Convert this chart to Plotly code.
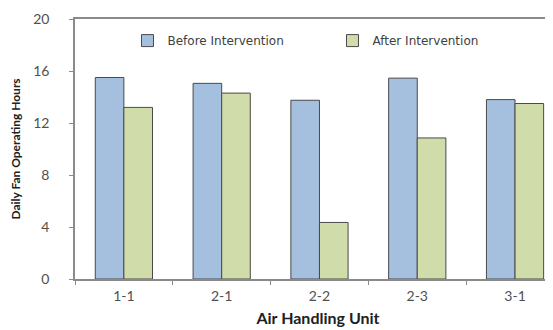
import plotly.graph_objects as go

units = ["1-1", "2-1", "2-2", "2-3", "3-1"]
before = [15.5, 15.05, 13.75, 15.45, 13.8]
after = [13.2, 14.3, 4.35, 10.85, 13.5]
y_ticks = [0, 4, 8, 12, 16, 20]

font_family = "Lato, Open Sans, sans-serif"

fig = go.Figure()
fig.add_trace(go.Bar(x=units, y=before, name="Before Intervention",
                     marker=dict(color="#A5BFDE", line=dict(color="#4a4a4a", width=1))))
fig.add_trace(go.Bar(x=units, y=after, name="After Intervention",
                     marker=dict(color="#D0DCA9", line=dict(color="#4a4a4a", width=1))))

fig.update_layout(
    width=553, height=330,
    margin=dict(l=67, r=0, t=11, b=59, autoexpand=False),
    paper_bgcolor="white", plot_bgcolor="white",
    barmode="group", bargap=0.415, bargroupgap=0,
    font=dict(family=font_family, size=12, color="#404040"),
    showlegend=True,
    legend=dict(orientation="h", x=0.108, y=0.917, xanchor="left", yanchor="middle",
                font=dict(family="DejaVu Sans", size=12, color="#404040"), bgcolor="rgba(0,0,0,0)",
                itemwidth=30, entrywidth=160, entrywidthmode="pixels", tracegroupgap=0),
)
fig.update_xaxes(
    range=[-0.5, 4.47],
    automargin=False,
    showline=True, linecolor="#8a8a8a", linewidth=1.5, mirror=True,
    ticks="outside", tickson="boundaries", ticklen=4, tickcolor="#8a8a8a",
    title=dict(text="<b>Air Handling Unit</b>", font=dict(size=16, color="#202020"), standoff=10),
    tickfont=dict(size=14, color="#505050"),
    ticklabelstandoff=3,
)
fig.update_yaxes(
    range=[0, 20], tickvals=y_ticks, showgrid=False, zeroline=False,
    automargin=False,
    showline=True, linecolor="#8a8a8a", linewidth=1.5, mirror=False,
    ticks="outside", ticklen=4, tickcolor="#8a8a8a",
    title=dict(text="<b>Daily Fan Operating Hours</b>", font=dict(size=12, color="#202020"), standoff=14),
    tickfont=dict(size=14, color="#505050"),
    ticklabelstandoff=17,
)

fig.write_html("out.html")
